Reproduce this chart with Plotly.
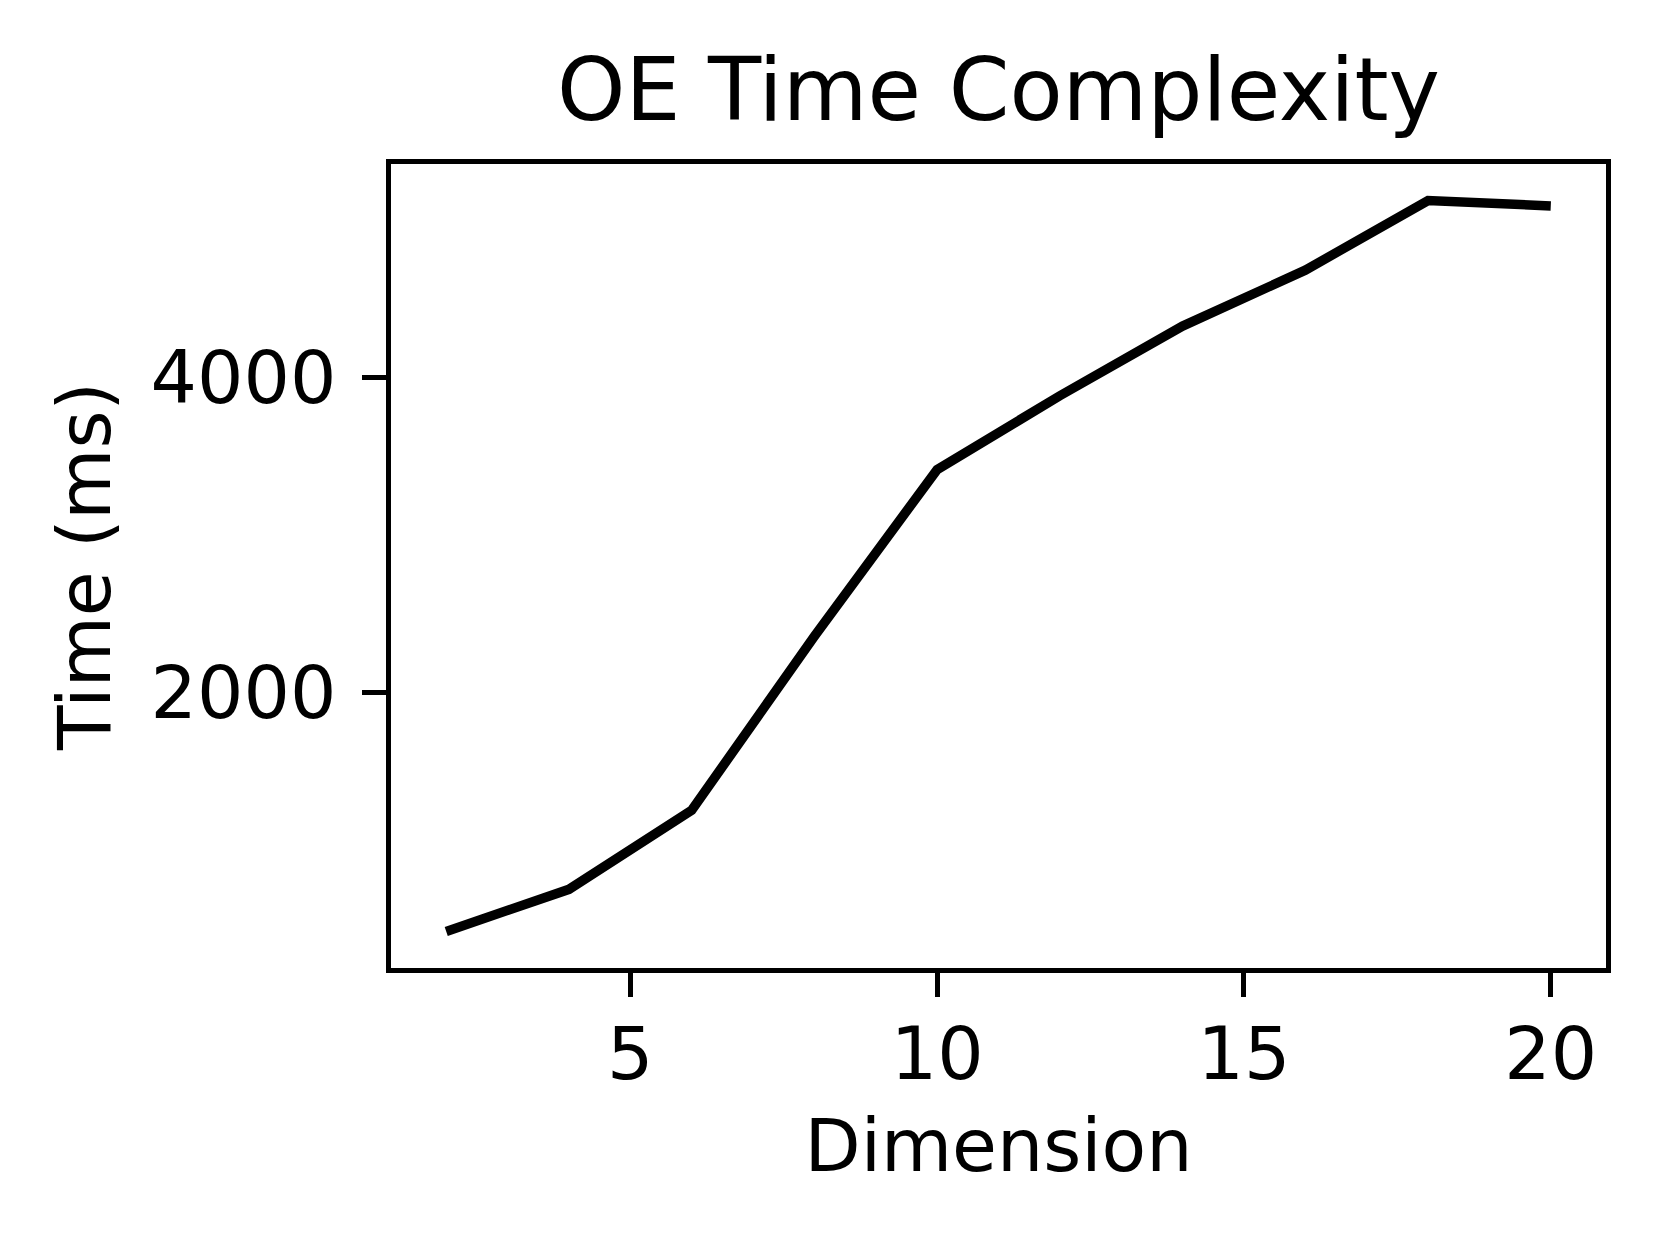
import plotly.graph_objects as go

dimension = [2, 4, 6, 8, 10, 12, 14, 16, 18, 20]
time_ms = [477, 745, 1248, 2356, 3416, 3886, 4329, 4685, 5128, 5094]
x_ticks = [5, 10, 15, 20]
y_ticks = [2000, 4000]

FONT = "DejaVu Sans"

fig = go.Figure()
fig.add_trace(go.Scatter(
    x=dimension, y=time_ms, mode="lines",
    line=dict(color="black", width=9.5),
    showlegend=False,
))

ymin, ymax = min(time_ms), max(time_ms)
pad_y = 0.05 * (ymax - ymin)
xmin, xmax = min(dimension), max(dimension)
pad_x = 0.05 * (xmax - xmin)

axis_common = dict(
    showline=True, mirror=True, linecolor="black", linewidth=5,
    ticks="outside", ticklen=24, tickwidth=5, tickcolor="black",
    showgrid=False, zeroline=False,
    tickfont=dict(family=FONT, size=73, color="black"),
)

fig.update_layout(
    width=1660, height=1244,
    margin=dict(l=383, r=62, t=156, b=284),
    paper_bgcolor="white", plot_bgcolor="white",
    font=dict(family=FONT, color="black"),
    title=dict(text="OE Time Complexity", xref="paper", x=0.5, xanchor="center",
               y=1 - 112 / 1244, yanchor="bottom",
               font=dict(family=FONT, size=87, color="black")),
    xaxis=dict(range=[xmin - pad_x, xmax + pad_x], tickvals=x_ticks,
               ticklabelstandoff=-6,
               title=dict(text="Dimension", font=dict(family=FONT, size=73, color="black"), standoff=27),
               **axis_common),
    yaxis=dict(range=[ymin - pad_y, ymax + pad_y], tickvals=y_ticks,
               ticklabelstandoff=11,
               title=dict(text="Time (ms)", font=dict(family=FONT, size=73, color="black"), standoff=18),
               **axis_common),
)

fig.write_html("out.html")
